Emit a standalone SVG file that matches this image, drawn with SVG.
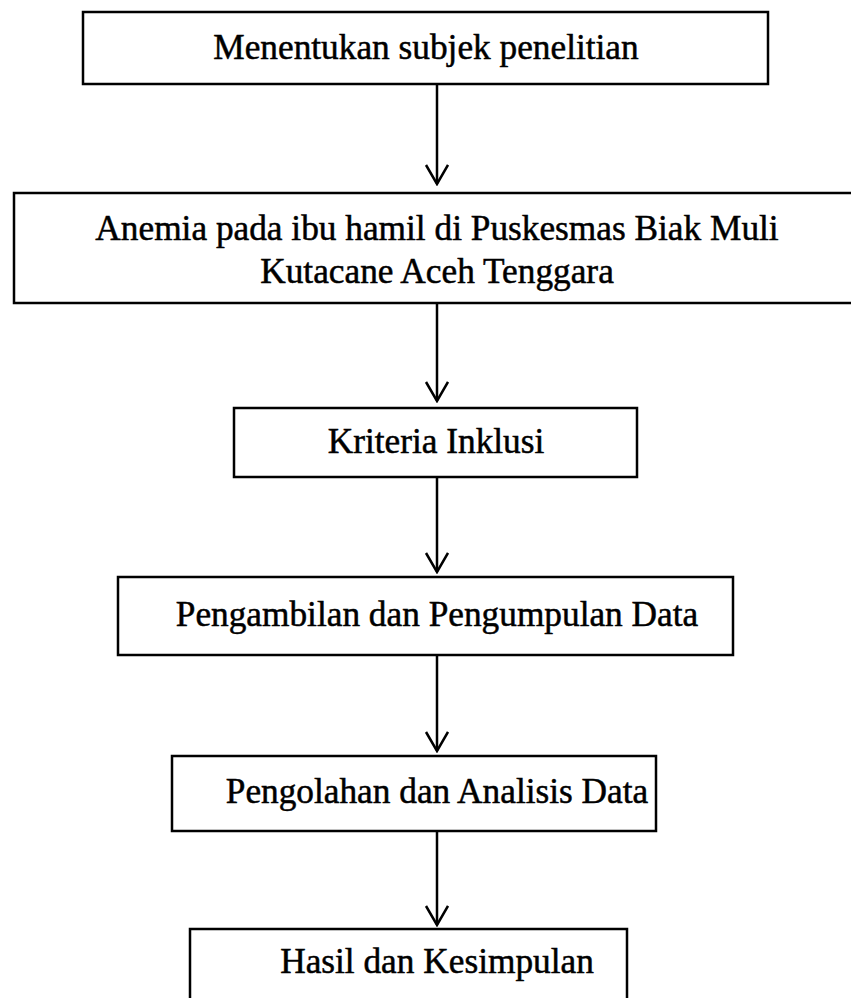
<svg xmlns="http://www.w3.org/2000/svg" width="851" height="998" viewBox="0 0 851 998">
<style>
.box{fill:#fff;stroke:#000;stroke-width:2.5}
.t{font-family:"Liberation Serif","Times New Roman",serif;font-size:35.3px;fill:#000;stroke:#000;stroke-width:0.5;text-anchor:middle}
.c{stroke:#000;stroke-width:2.5;fill:none}
</style>
<defs>
<marker id="ah" markerWidth="22" markerHeight="26" refX="20" refY="12" orient="auto" markerUnits="userSpaceOnUse" viewBox="0 0 22 26">
<path d="M1,1 L20,12 L1,23" fill="none" stroke="#000" stroke-width="2.5"/>
</marker>
</defs>
<rect width="851" height="998" fill="#fff"/>
<g id="n1"><rect class="box" x="83" y="12" width="685" height="72"/><text class="t" x="426" y="59">Menentukan subjek penelitian</text></g>
<g id="n2"><rect class="box" x="14" y="193" width="850" height="110"/><text class="t" x="437" y="240">Anemia pada ibu hamil di Puskesmas Biak Muli</text><text class="t" x="437" y="283">Kutacane Aceh Tenggara</text></g>
<g id="n3"><rect class="box" x="234" y="408" width="403" height="69"/><text class="t" x="436" y="453">Kriteria Inklusi</text></g>
<g id="n4"><rect class="box" x="118" y="577" width="615" height="78"/><text class="t" x="437" y="626">Pengambilan dan Pengumpulan Data</text></g>
<g id="n5"><rect class="box" x="172" y="756" width="484" height="75"/><text class="t" x="437" y="803">Pengolahan dan Analisis Data</text></g>
<g id="n6"><rect class="box" x="190" y="929" width="437" height="80"/><text class="t" x="437" y="973">Hasil dan Kesimpulan</text></g>
<g id="connectors">
<line class="c" x1="437" y1="84" x2="437" y2="184" marker-end="url(#ah)"/>
<line class="c" x1="437" y1="303" x2="437" y2="401" marker-end="url(#ah)"/>
<line class="c" x1="437" y1="477" x2="437" y2="572" marker-end="url(#ah)"/>
<line class="c" x1="437" y1="655" x2="437" y2="751" marker-end="url(#ah)"/>
<line class="c" x1="437" y1="831" x2="437" y2="925" marker-end="url(#ah)"/>
</g>
</svg>
